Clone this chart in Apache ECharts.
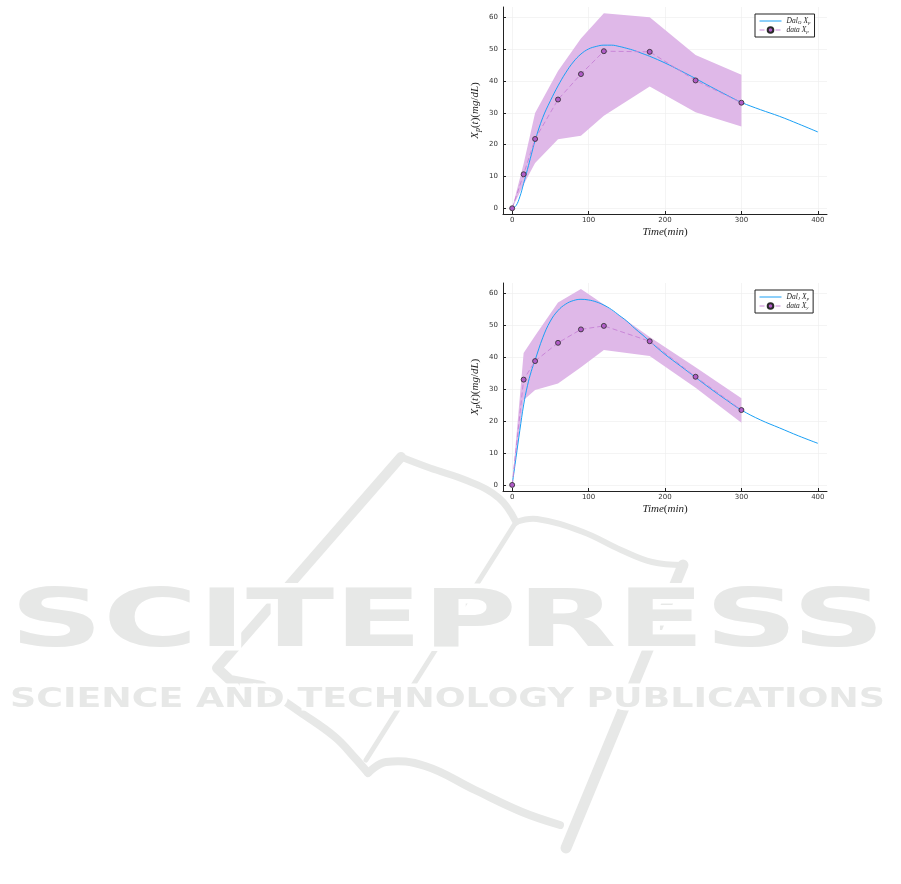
<!DOCTYPE html>
<html>
<head>
<meta charset="utf-8">
<script src="https://cdn.jsdelivr.net/npm/echarts@6/dist/echarts.min.js"></script>
<style>
html,body{margin:0;padding:0;background:#fff;}
#chart{width:901px;height:884px;}
</style>
</head>
<body>
<div id="chart"></div>
<script>
// ---- data ----
const tData = [0, 15, 30, 60, 90, 120, 180, 240, 300];
const dataXp = [0, 10.7, 21.8, 34.2, 42.2, 49.4, 49.2, 40.2, 33.2];
const upperXp = [0, 14, 30, 43.2, 53.4, 61.3, 60.1, 48.2, 42];
const lowerXp = [0, 7.5, 14.2, 21.7, 22.8, 29.1, 38.3, 30.2, 25.7];
const dataXy = [0, 32.9, 38.7, 44.4, 48.6, 49.7, 44.9, 33.8, 23.4];
const upperXy = [0, 41.2, 46.6, 57.0, 61.2, 56.4, 46.2, 36.8, 27.1];
const lowerXy = [0, 26.5, 29.7, 31.7, 36.8, 42.2, 40.3, 30.4, 19.4];
const tModel = [0, 5, 10, 15, 20, 25, 30, 40, 50, 60, 70, 80, 90, 100, 110, 120, 130, 140, 150, 160, 170, 180, 200, 220, 240, 260, 280, 300, 325, 350, 375, 400];
const modelO = [0, 0.8, 3.6, 7.8, 12.2, 16.8, 21.3, 28.5, 33.8, 38.5, 42.6, 46, 48.5, 50.1, 50.9, 51.3, 51.3, 50.9, 50.3, 49.6, 48.7, 47.8, 45.7, 43.3, 40.8, 38.2, 35.7, 33.3, 31, 28.9, 26.5, 24];
const modelJ = [0, 8.5, 17, 25, 31, 35.5, 39, 46, 51.2, 54.5, 56.5, 57.6, 58, 57.8, 57.2, 56.2, 54.8, 53, 51.2, 49, 47, 44.9, 40.8, 37.2, 33.6, 30, 26.6, 23.4, 20.3, 17.8, 15.3, 13];
const xTicks = [0, 100, 200, 300, 400];
const yTicks = [0, 10, 20, 30, 40, 50, 60];
const seriesNames = [['Dal_O X_p', 'data X_p'], ['Dal_J X_p', 'data X_y']];

// ---- helpers ----
const zip = (a, b) => a.map((v, i) => [v, b[i]]);
const SERIF = '"Liberation Serif", "DejaVu Serif", serif';
const SANS = '"DejaVu Sans", sans-serif';
const mathRich = {
  i: {fontFamily: SERIF, fontStyle: 'italic', fontSize: 11, color: '#222'},
  n: {fontFamily: SERIF, fontSize: 11, color: '#222'},
  s: {fontFamily: SERIF, fontStyle: 'italic', fontSize: 8, color: '#222', padding: [5, 0, 0, 0]}
};
const legRich = {
  i: {fontFamily: SERIF, fontStyle: 'italic', fontSize: 7.5, color: '#222'},
  s: {fontFamily: SERIF, fontStyle: 'italic', fontSize: 5, color: '#222', padding: [3, 0, 0, 0]}
};
function legFmt(name) {
  const m = name.match(/^(\w+)_(\w) X_(\w)$/);
  if (m) return '{i|' + m[1] + '}{s|' + m[2] + '} {i|X}{s|' + m[3] + '}';
  const d = name.match(/^(\w+) X_(\w)$/);
  return '{i|' + d[1] + ' X}{s|' + d[2] + '}';
}

const grids = [
  {left: 503, top: 7, width: 324, height: 207},
  {left: 503, top: 283, width: 324, height: 208}
];
const yRanges = [[-1.8, 63.3], [-1.9, 63.1]];
const bands = [[upperXp, lowerXp], [upperXy, lowerXy]];
const datas = [dataXp, dataXy];
const models = [modelO, modelJ];

function bandRenderer(up, lo) {
  return function (params, api) {
    if (params.dataIndex !== 0) return null;
    const pts = [];
    for (let i = 0; i < tData.length; i++) pts.push(api.coord([tData[i], up[i]]));
    for (let i = tData.length - 1; i >= 0; i--) pts.push(api.coord([tData[i], lo[i]]));
    return {type: 'polygon', shape: {points: pts}, style: {fill: '#dfb8e8', stroke: null}};
  };
}

const xAxes = [], yAxes = [], series = [], legends = [];
for (let g = 0; g < 2; g++) {
  xAxes.push({
    type: 'value', gridIndex: g, min: -12, max: 412,
    name: '{i|Time}{n|(}{i|min}{n|)}', nameLocation: 'middle', nameGap: 13,
    nameTextStyle: {rich: mathRich},
    axisLine: {show: true, onZero: false, lineStyle: {color: '#222', width: 1}},
    axisTick: {show: true, inside: true, length: 3, customValues: xTicks, lineStyle: {color: '#222'}},
    axisLabel: {customValues: xTicks, fontSize: 7, color: '#333', fontFamily: SANS, margin: 3},
    splitLine: {show: true, lineStyle: {color: '#ececec', width: 0.6}}
  });
  yAxes.push({
    type: 'value', gridIndex: g, min: yRanges[g][0], max: yRanges[g][1],
    name: '{i|X}{s|p}{n|(}{i|t}{n|)(}{i|mg}{n|/}{i|dL}{n|)}', nameLocation: 'middle', nameRotate: 90, nameGap: 21,
    nameTextStyle: {rich: mathRich},
    axisLine: {show: true, onZero: false, lineStyle: {color: '#222', width: 1}},
    axisTick: {show: true, inside: true, length: 3, customValues: yTicks, lineStyle: {color: '#222'}},
    axisLabel: {customValues: yTicks, fontSize: 7, color: '#333', fontFamily: SANS, margin: 5},
    splitLine: {show: true, lineStyle: {color: '#ececec', width: 0.6}}
  });
  series.push({
    name: 'band_' + g, type: 'custom', xAxisIndex: g, yAxisIndex: g,
    data: zip(tData, bands[g][0]), renderItem: bandRenderer(bands[g][0], bands[g][1]),
    silent: true, z: 1
  });
  series.push({
    name: seriesNames[g][0], type: 'line', xAxisIndex: g, yAxisIndex: g,
    data: zip(tModel, models[g]), smooth: 0.4, symbol: 'none',
    lineStyle: {color: '#1aa0f5', width: 1}, itemStyle: {color: '#1aa0f5'}, z: 3
  });
  series.push({
    name: seriesNames[g][1], type: 'line', xAxisIndex: g, yAxisIndex: g,
    data: zip(tData, datas[g]), symbol: 'circle', symbolSize: 5,
    lineStyle: {color: '#c987d8', width: 1, type: [5, 3]},
    itemStyle: {color: '#b15cc8', borderColor: '#2a2a2a', borderWidth: 0.8}, z: 4
  });
  legends.push({
    data: [
      {name: seriesNames[g][0], itemStyle: {opacity: 0}, lineStyle: {width: 1}},
      {name: seriesNames[g][1], lineStyle: {width: 1}}
    ],
    orient: 'vertical', left: 755, top: g === 0 ? 14 : 290,
    padding: [3, 4, 3, 4], itemGap: 1, itemWidth: 22, itemHeight: 7,
    borderColor: '#222', borderWidth: 1, borderRadius: 0, backgroundColor: '#fff',
    formatter: legFmt, textStyle: {rich: legRich, fontSize: 7.5}
  });
}

// ---- watermark ----
const WM = '#e7e8e7';
function measure(text, font) {
  const c = document.createElement('canvas').getContext('2d');
  c.font = font;
  return c.measureText(text).width;
}
const f1 = 'bold 80px "DejaVu Sans"', f2 = 'bold 26px "DejaVu Sans"';
const t1 = 'SCITEPRESS', t2 = 'SCIENCE AND TECHNOLOGY PUBLICATIONS';
const sx1 = 875 / measure(t1, f1), sx2 = 875 / measure(t2, f2);
const stroke = (pts, w, smooth) => ({
  type: 'polyline', silent: true, z: 0,
  shape: {points: pts, smooth: smooth || 0},
  style: {stroke: WM, lineWidth: w, lineCap: 'round', lineJoin: 'round', fill: null}
});
const graphic = [
  stroke([[401, 457], [217, 668], [230, 680], [262, 686]], 10),
  stroke([[401, 457], [430, 468], [468, 481], [499, 498], [516, 522]], 7, 0.4),
  stroke([[516, 522], [537, 519], [583, 532], [621, 550], [652, 562], [683, 565]], 6, 0.4),
  stroke([[516, 522], [366, 760]], 5),
  stroke([[683, 565], [566, 848]], 11),
  stroke([[262, 686], [300, 712], [335, 737], [355, 758], [368, 773]], 8, 0.4),
  stroke([[368, 773], [386, 762], [425, 766], [475, 790], [522, 812], [560, 825]], 8, 0.4),
  {type: 'text', x: 10, y: 625, scaleX: sx1, z: 1, silent: true,
   style: {text: t1, font: f1, fill: WM, stroke: '#fff', lineWidth: 9, strokeFirst: true,
           align: 'left', verticalAlign: 'middle', textAlign: 'left', textVerticalAlign: 'middle'}},
  {type: 'text', x: 10, y: 700, scaleX: sx2, z: 1, silent: true,
   style: {text: t2, font: f2, fill: WM, stroke: '#fff', lineWidth: 7, strokeFirst: true,
           align: 'left', verticalAlign: 'middle', textAlign: 'left', textVerticalAlign: 'middle'}}
];

const chart = echarts.init(document.getElementById('chart'), null, {renderer: 'canvas'});
chart.setOption({
  animation: false,
  backgroundColor: '#fff',
  grid: grids,
  xAxis: xAxes,
  yAxis: yAxes,
  legend: legends,
  series: series,
  graphic: graphic
});
</script>
</body>
</html>
